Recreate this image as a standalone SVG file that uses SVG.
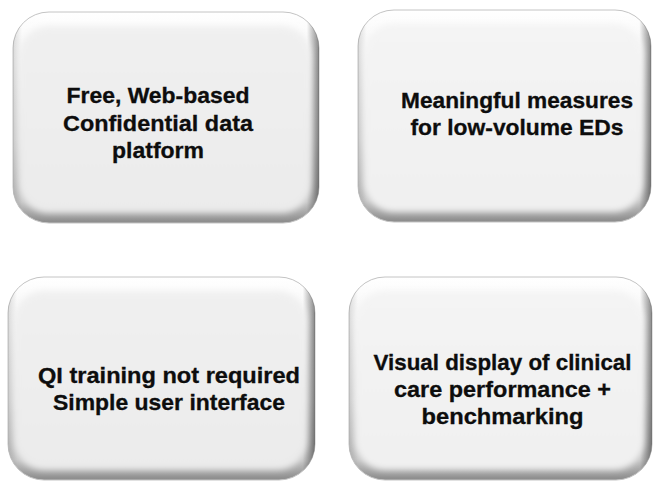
<svg xmlns="http://www.w3.org/2000/svg" width="653" height="481" viewBox="0 0 653 481">
  <defs>
    <linearGradient id="edge" x1="0" y1="0" x2="0" y2="1">
      <stop offset="0" stop-color="#ffffff"/>
      <stop offset="0.6" stop-color="#e4e4e4"/>
      <stop offset="0.9" stop-color="#c4c4c4"/>
      <stop offset="1" stop-color="#8a8a8a"/>
    </linearGradient>
    <linearGradient id="side" x1="0" y1="0" x2="1" y2="0">
      <stop offset="0" stop-color="#000000" stop-opacity="0.12"/>
      <stop offset="0.03" stop-color="#000000" stop-opacity="0"/>
      <stop offset="0.96" stop-color="#000000" stop-opacity="0"/>
      <stop offset="1" stop-color="#000000" stop-opacity="0.45"/>
    </linearGradient>
    <linearGradient id="face1" x1="0" y1="0" x2="0" y2="1">
      <stop offset="0" stop-color="#f0f0f0"/>
      <stop offset="1" stop-color="#ebebeb"/>
    </linearGradient>
    <linearGradient id="face2" x1="0" y1="0" x2="0" y2="1">
      <stop offset="0" stop-color="#f4f4f4"/>
      <stop offset="1" stop-color="#f0f0f0"/>
    </linearGradient>
    <filter id="soft" x="-10%" y="-10%" width="120%" height="120%">
      <feGaussianBlur stdDeviation="3"/>
    </filter>
  </defs>
  <style>
    .outer { fill: url(#edge); stroke: #c4c4c4; stroke-width: 1; }
    .shade { fill: url(#side); }
    .inner { filter: url(#soft); }
    .f1 { fill: url(#face1); }
    .f2 { fill: url(#face2); }
    .lbl { font-family: "Liberation Sans", Arial, sans-serif; font-weight: bold; font-size: 22px; fill: #0d0d0d; stroke: #0d0d0d; stroke-width: 0.3; text-anchor: middle; }
  </style>
  <rect width="653" height="481" fill="#ffffff"/>

  <g id="node1">
    <rect class="outer" x="13" y="12" width="306" height="211" rx="36" ry="36"/>
    <rect class="shade" x="13" y="12" width="306" height="211" rx="36" ry="36"/>
    <rect class="inner f1" x="19" y="26" width="292" height="187" rx="30" ry="30"/>
    <text class="lbl" x="158" y="103" textLength="183" lengthAdjust="spacingAndGlyphs">Free, Web-based</text>
    <text class="lbl" x="158" y="130.5" textLength="190" lengthAdjust="spacingAndGlyphs">Confidential data</text>
    <text class="lbl" x="158" y="158" textLength="92" lengthAdjust="spacingAndGlyphs">platform</text>
  </g>

  <g id="node2">
    <rect class="outer" x="358" y="10" width="293" height="212" rx="36" ry="36"/>
    <rect class="shade" x="358" y="10" width="293" height="212" rx="36" ry="36"/>
    <rect class="inner f2" x="364" y="24" width="279" height="188" rx="30" ry="30"/>
    <text class="lbl" x="517" y="107.5" textLength="232" lengthAdjust="spacingAndGlyphs">Meaningful measures</text>
    <text class="lbl" x="517" y="135" textLength="213" lengthAdjust="spacingAndGlyphs">for low-volume EDs</text>
  </g>

  <g id="node3">
    <rect class="outer" x="8" y="277" width="307" height="203" rx="36" ry="36"/>
    <rect class="shade" x="8" y="277" width="307" height="203" rx="36" ry="36"/>
    <rect class="inner f1" x="14" y="291" width="293" height="179" rx="30" ry="30"/>
    <text class="lbl" x="169" y="383" textLength="262" lengthAdjust="spacingAndGlyphs">QI training not required</text>
    <text class="lbl" x="169" y="410" textLength="232" lengthAdjust="spacingAndGlyphs">Simple user interface</text>
  </g>

  <g id="node4">
    <rect class="outer" x="349" y="277" width="303" height="203" rx="36" ry="36"/>
    <rect class="shade" x="349" y="277" width="303" height="203" rx="36" ry="36"/>
    <rect class="inner f2" x="355" y="291" width="289" height="179" rx="30" ry="30"/>
    <text class="lbl" x="502.5" y="369.5" textLength="258" lengthAdjust="spacingAndGlyphs">Visual display of clinical</text>
    <text class="lbl" x="502.5" y="397" textLength="217" lengthAdjust="spacingAndGlyphs">care performance +</text>
    <text class="lbl" x="502.5" y="424" textLength="162" lengthAdjust="spacingAndGlyphs">benchmarking</text>
  </g>

  <g id="connectors"></g>
</svg>
